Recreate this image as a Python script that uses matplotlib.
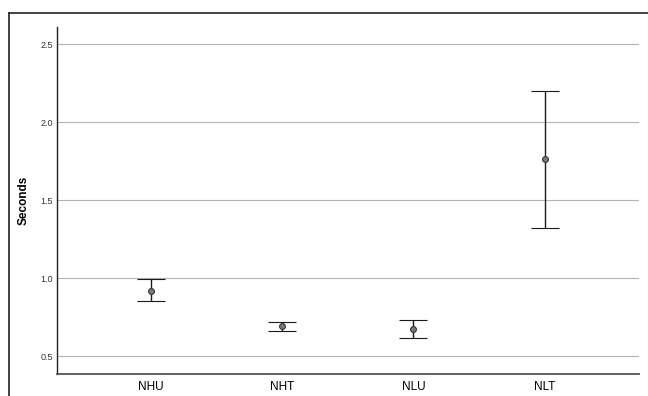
import matplotlib
matplotlib.use("Agg")
import matplotlib.pyplot as plt
from matplotlib.lines import Line2D
import numpy as np

plt.rcParams['font.family'] = ['Liberation Sans', 'DejaVu Sans']

# data
groups = ["NHU", "NHT", "NLU", "NLT"]
means = [0.920, 0.694, 0.673, 1.761]
upper = [0.992, 0.720, 0.731, 2.199]
lower = [0.855, 0.660, 0.613, 1.319]
yticks = [0.5, 1.0, 1.5, 2.0, 2.5]

fig = plt.figure(figsize=(6.48, 3.96), dpi=100)
ax = fig.add_axes([0.0875, 0.0556, 0.8985, 0.8754])

x = np.arange(len(groups))
m = np.array(means)
err = np.vstack([m - np.array(lower), np.array(upper) - m])

ax.grid(axis='y', color='#b4b4b4', linewidth=0.8, zorder=0)
ax.errorbar(x, m, yerr=err, fmt='o', color='black', ecolor='#1a1a1a',
            elinewidth=1.0, capsize=10, capthick=1.0,
            markersize=4.2, markerfacecolor='#7a7a7a',
            markeredgecolor='#333333', markeredgewidth=0.8, zorder=3)

ax.set_xlim(-0.72, 3.72)
ax.set_ylim(0.385, 2.607)
ax.set_xticks(x)
ax.set_xticklabels(groups, fontsize=8.5)
ax.set_yticks(yticks)
ax.set_yticklabels([f"{v:.1f}" for v in yticks], fontsize=6.5, color='#333333')
ax.tick_params(axis='both', length=0)
ax.tick_params(axis='y', pad=2.5)
ax.tick_params(axis='x', pad=5)

ax.set_ylabel("Seconds", fontsize=8.5, fontweight='bold')
ax.yaxis.set_label_coords(-0.046, 0.5)

for s in ['top', 'right']:
    ax.spines[s].set_visible(False)
ax.spines['left'].set_color('#222222')
ax.spines['bottom'].set_color('#555555')
ax.spines['left'].set_linewidth(1.0)
ax.spines['bottom'].set_linewidth(1.3)

# outer chart frame (cut off on the right and bottom)
fx = 9 / 648
fy = 1 - 13 / 396
fig.add_artist(Line2D([fx, fx], [fy, -0.01], color='#222222', linewidth=1.2))
fig.add_artist(Line2D([fx, 1.01], [fy, fy], color='#222222', linewidth=1.2))

fig.savefig("out.png", dpi=100)
